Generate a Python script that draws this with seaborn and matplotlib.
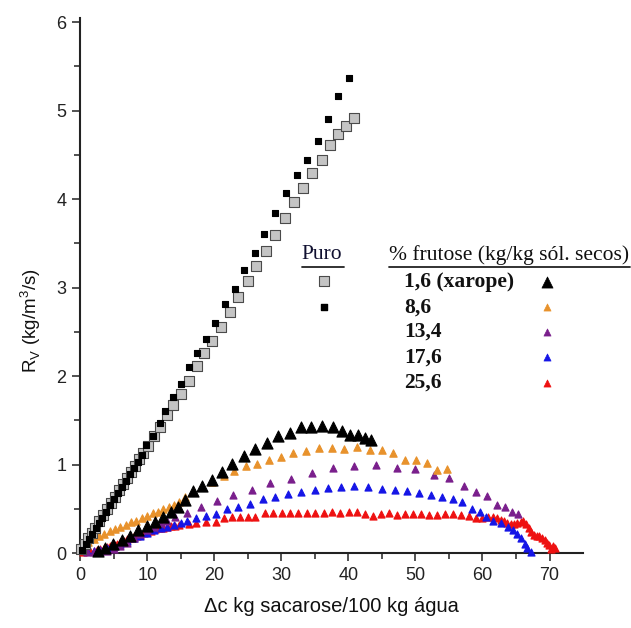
import numpy as np
import pandas as pd
import matplotlib
matplotlib.use("Agg")
import matplotlib.pyplot as plt
import seaborn as sns

# ---------------- data ----------------
puro_gray_x = [0.2,0.7,1.2,1.7,2.2,2.8,3.4,4.0,4.6,5.2,5.8,6.4,7.0,7.6,8.2,8.8,9.4,10.1,11.0,11.9,
               12.9,13.9,15.1,16.3,17.4,18.5,19.7,21.0,22.3,23.6,25.0,26.3,27.7,29.0,30.5,31.9,33.2,34.6,36.0,37.3,
               38.5,39.7,40.8]
puro_gray_y = [0.05,0.11,0.17,0.23,0.29,0.36,0.43,0.50,0.57,0.64,0.71,0.78,0.85,0.92,0.99,1.06,1.13,1.21,1.32,1.43,
               1.56,1.67,1.80,1.94,2.11,2.26,2.40,2.56,2.72,2.89,3.07,3.24,3.41,3.60,3.79,3.97,4.13,4.29,4.44,4.61,
               4.73,4.82,4.92]

puro_black_x = [0.3,0.8,1.3,1.8,2.3,2.8,3.3,3.9,4.5,5.1,5.7,6.3,6.9,7.5,8.1,8.6,9.2,9.8,10.8,11.9,
                12.7,13.9,15.1,16.2,17.5,18.7,20.1,21.6,23.1,24.5,26.1,27.4,29.1,30.7,32.3,33.9,35.5,36.9,38.4,40.1]
puro_black_y = [0.04,0.10,0.16,0.22,0.28,0.34,0.40,0.47,0.54,0.61,0.68,0.75,0.82,0.89,0.96,1.03,1.11,1.22,1.33,1.47,
                1.61,1.76,1.91,2.10,2.26,2.42,2.60,2.81,2.99,3.20,3.39,3.61,3.84,4.07,4.27,4.44,4.66,4.90,5.16,5.37]

f16_x = [2.7,3.7,4.9,6.2,7.4,8.7,9.9,11.1,12.4,13.6,14.6,15.7,16.9,18.2,19.6,21.1,22.7,24.4,26.1,27.8,
         29.5,31.3,33.0,34.5,36.1,37.7,39.0,40.3,41.5,42.5,43.4]
f16_y = [0.03,0.06,0.11,0.15,0.20,0.26,0.31,0.35,0.41,0.47,0.52,0.60,0.70,0.76,0.83,0.92,1.01,1.10,1.18,1.25,
         1.33,1.36,1.43,1.43,1.44,1.43,1.38,1.34,1.34,1.30,1.28]

f86_x = [1.2,2.0,2.8,3.6,4.4,5.2,6.0,6.8,7.6,8.4,9.2,10.0,10.8,11.6,12.4,13.2,14.0,14.8,15.7,16.9,
         18.2,19.7,21.4,23.0,24.7,26.4,28.1,29.9,31.8,33.7,35.6,37.5,39.4,41.3,43.2,45.0,46.7,48.5,50.1,51.7,
         53.2,54.7]
f86_y = [0.13,0.16,0.19,0.22,0.25,0.27,0.30,0.32,0.35,0.37,0.40,0.42,0.45,0.47,0.50,0.52,0.55,0.58,0.63,0.69,
         0.75,0.81,0.87,0.93,0.98,1.01,1.05,1.09,1.13,1.16,1.19,1.19,1.18,1.20,1.17,1.17,1.13,1.05,1.05,1.02,
         0.94,0.95]

f134_x = [1.0,2.0,3.0,4.0,5.0,6.0,7.0,8.0,9.0,10.0,11.0,12.0,13.0,14.1,15.9,18.0,20.4,22.8,25.6,28.3,
          31.5,34.6,37.7,40.9,44.1,47.2,50.0,52.7,55.0,57.3,59.0,60.7,62.1,63.3,64.4,65.3]
f134_y = [0.01,0.01,0.02,0.03,0.05,0.08,0.12,0.17,0.22,0.26,0.30,0.34,0.37,0.41,0.46,0.52,0.59,0.66,0.71,0.79,
          0.84,0.91,0.96,0.99,1.00,0.96,0.95,0.88,0.85,0.76,0.69,0.65,0.55,0.52,0.47,0.44]

f176_x = [1.0,2.0,3.0,4.0,5.0,6.0,7.0,8.0,9.0,10.0,11.0,12.0,13.0,14.0,15.0,15.9,17.3,18.7,20.3,21.9,
          23.6,25.3,27.2,29.1,31.0,33.0,35.0,37.0,38.9,40.9,42.9,45.0,46.9,48.8,50.6,52.3,54.0,55.6,57.0,58.5,
          59.7,60.6,61.6,62.7,63.8,64.5,65.2,65.8,66.3,66.7,67.2]
f176_y = [0.02,0.03,0.04,0.06,0.08,0.11,0.14,0.17,0.20,0.23,0.26,0.28,0.30,0.32,0.34,0.37,0.40,0.42,0.44,0.50,
          0.52,0.56,0.61,0.64,0.67,0.69,0.72,0.74,0.75,0.76,0.75,0.73,0.71,0.70,0.68,0.66,0.63,0.61,0.58,0.50,
          0.47,0.41,0.37,0.34,0.30,0.26,0.22,0.17,0.11,0.06,0.01]

f256_x = [0.5,1.0,1.5,2.0,2.5,3.0,3.5,4.0,4.5,5.0,5.5,6.0,6.5,7.0,7.5,8.0,8.5,9.0,9.5,10.0,
          10.6,11.2,11.8,12.4,13.0,13.6,14.2,14.8,
          16.2,17.3,18.8,20.3,21.4,22.6,23.8,25.0,26.1,27.5,28.8,30.1,31.3,32.5,33.8,35.0,36.3,37.5,38.8,40.1,
          41.3,42.5,43.7,
          44.9,46.0,47.2,48.4,49.6,50.8,52.0,53.2,54.4,55.6,56.8,58.0,59.0,60.0,60.8,61.5,62.1,62.7,63.2,63.7,
          64.2,64.7,65.2,65.7,66.1,66.5,66.9,67.3,67.7,68.1,68.5,68.9,69.3,69.6,69.9,70.2,70.5,70.8]
f256_y = [0.01,0.02,0.03,0.03,0.04,0.05,0.06,0.07,0.08,0.10,0.11,0.13,0.14,0.16,0.17,0.19,0.20,0.21,0.23,0.24,
          0.25,0.27,0.28,0.29,0.30,0.31,0.31,0.32,
          0.33,0.34,0.35,0.35,0.40,0.41,0.41,0.41,0.41,0.45,0.45,0.45,0.46,0.45,0.45,0.45,0.46,0.47,0.46,0.47,
          0.47,0.44,0.42,
          0.44,0.45,0.43,0.44,0.44,0.44,0.43,0.43,0.44,0.44,0.43,0.42,0.40,0.40,0.41,0.41,0.40,0.38,0.36,0.34,
          0.33,0.33,0.34,0.35,0.37,0.33,0.28,0.24,0.21,0.20,0.19,0.17,0.15,0.12,0.09,0.05,0.08,0.06]

legend_labels = ["1,6 (xarope)", "8,6", "13,4", "17,6", "25,6"]
x_ticks = [0, 10, 20, 30, 40, 50, 60, 70]
y_ticks = [0, 1, 2, 3, 4, 5, 6]

# ---------------- style ----------------
sns.set_style("ticks")
plt.rcParams['font.family'] = ['Liberation Sans', 'DejaVu Sans']
plt.rcParams['mathtext.fontset'] = 'custom'
plt.rcParams['mathtext.rm'] = 'Liberation Sans'

fig = plt.figure(figsize=(6.31, 6.28), dpi=100)
ax = fig.add_axes([0.127, 0.119, 0.797, 0.853])

series = [
    (f256_x, f256_y, "^", 26, "#ee1111", "#ee1111"),
    (f176_x, f176_y, "^", 26, "#1515e6", "#1515e6"),
    (f134_x, f134_y, "^", 26, "#7a1f8c", "#7a1f8c"),
    (f86_x, f86_y, "^", 28, "#e8922c", "#e8922c"),
    (f16_x, f16_y, "^", 64, "#000000", "#000000"),
    (puro_gray_x, puro_gray_y, "s", 42, "#c4c4c4", "#4a4a4a"),
    (puro_black_x, puro_black_y, "s", 24, "#000000", "#000000"),
]
for xs, ys, m, s, fc, ec in series:
    df = pd.DataFrame({"x": xs, "y": ys})
    sns.scatterplot(data=df, x="x", y="y", marker=m, s=s, color=fc,
                    edgecolor=ec, linewidth=0.8, ax=ax, clip_on=False, zorder=3)

ax.set_xlim(0, 75)
ax.set_ylim(0, 6.05)
ax.set_xticks(x_ticks)
ax.set_yticks(y_ticks)
ax.set_xticks(np.arange(5, 75, 10), minor=True)
ax.set_yticks(np.arange(0.5, 6, 1.0), minor=True)
ax.tick_params(which='major', direction='out', length=6, width=1.1, labelsize=13, colors='#222222', pad=4)
ax.tick_params(which='minor', direction='out', length=4, width=1.1, colors='#222222')
sns.despine(ax=ax)
for sp in ['left', 'bottom']:
    ax.spines[sp].set_linewidth(1.5)
    ax.spines[sp].set_color('#222222')

ax.set_xlabel("\u0394c kg sacarose/100 kg água", fontsize=14.5, labelpad=9, color='#111111')
ax.set_ylabel(r"R$_\mathregular{V}$ (kg/m$^\mathregular{3}$/s)", fontsize=13.5, color='#111111')
ax.yaxis.set_label_coords(-0.074, 0.435)

# ---------------- legend (drawn in axes coordinates) ----------------
serif = ['Liberation Serif', 'DejaVu Serif']
tr = ax.transAxes
fs = 15.5
ax.text(0.441, 0.557, "Puro", transform=tr, family=serif, fontsize=fs, va='center', ha='left', color='#101030')
ax.plot([0.441, 0.524], [0.535, 0.535], transform=tr, color='#222222', lw=1.3, clip_on=False)
ax.scatter([0.485], [0.508], transform=tr, marker='s', s=42, c='#c4c4c4', edgecolors='#4a4a4a', linewidths=0.8, clip_on=False)
ax.scatter([0.485], [0.459], transform=tr, marker='s', s=24, c='#000000', clip_on=False)

ax.text(0.614, 0.557, "% frutose (kg/kg sól. secos)", transform=tr, family=serif, fontsize=fs,
        va='center', ha='left', color='#101010')
ax.plot([0.614, 1.093], [0.535, 0.535], transform=tr, color='#222222', lw=1.3, clip_on=False)

leg_colors = ["#000000", "#e8922c", "#7a1f8c", "#1515e6", "#ee1111"]
leg_sizes = [64, 26, 26, 26, 26]
leg_y = [0.506, 0.459, 0.413, 0.366, 0.318]
for lab, c, s, yy in zip(legend_labels, leg_colors, leg_sizes, leg_y):
    ax.text(0.644, yy, lab, transform=tr, family=serif, fontsize=fs, fontweight='bold',
            va='center', ha='left', color='#111111')
    ax.scatter([0.928], [yy], transform=tr, marker='^', s=s, c=c, edgecolors=c, linewidths=0.5, clip_on=False)

fig.savefig("out.png", dpi=100)
